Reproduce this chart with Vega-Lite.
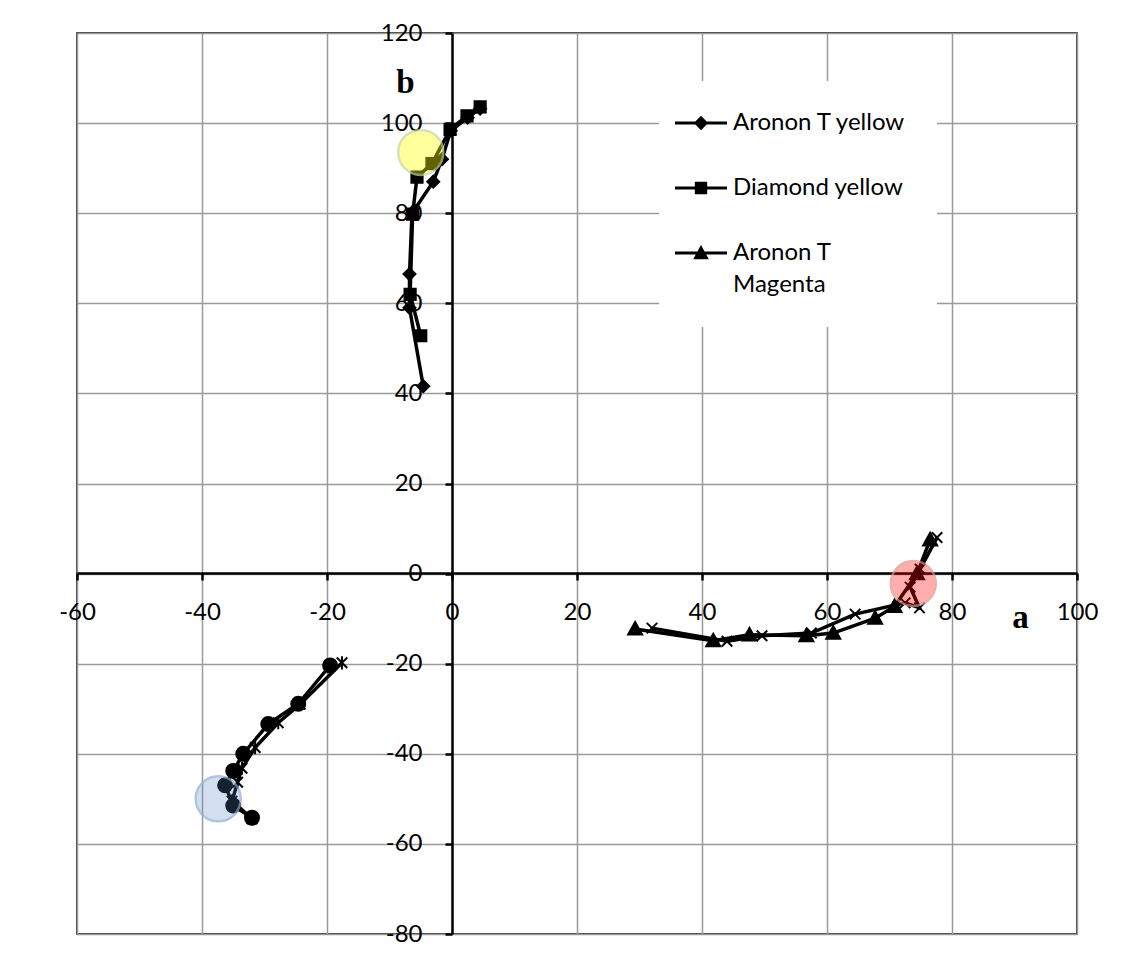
{
  "$schema": "https://vega.github.io/schema/vega-lite/v6.json",
  "width": 1000,
  "height": 901,
  "autosize": "none",
  "padding": {"left": 77, "top": 33, "right": 50, "bottom": 22},
  "background": "white",
  "config": {
    "view": {"stroke": "black", "strokeWidth": 1.5},
    "font": "Lato",
    "style": {"guide-label": {"lineHeight": 32}}
  },
  "datasets": {
    "series": [
      {"series": "Aronon T yellow", "ord": 1, "a": -4.6, "b": 41.6},
      {"series": "Aronon T yellow", "ord": 2, "a": -6.8, "b": 59.0},
      {"series": "Aronon T yellow", "ord": 3, "a": -6.8, "b": 66.5},
      {"series": "Aronon T yellow", "ord": 4, "a": -6.4, "b": 80.0},
      {"series": "Aronon T yellow", "ord": 5, "a": -3.0, "b": 87.0},
      {"series": "Aronon T yellow", "ord": 6, "a": -1.6, "b": 92.0},
      {"series": "Aronon T yellow", "ord": 7, "a": -0.2, "b": 98.3},
      {"series": "Aronon T yellow", "ord": 8, "a": 2.5, "b": 101.2},
      {"series": "Aronon T yellow", "ord": 9, "a": 4.5, "b": 103.2},
      {"series": "Diamond yellow", "ord": 1, "a": -5.0, "b": 52.8},
      {"series": "Diamond yellow", "ord": 2, "a": -6.7, "b": 62.0},
      {"series": "Diamond yellow", "ord": 3, "a": -6.3, "b": 79.8},
      {"series": "Diamond yellow", "ord": 4, "a": -5.6, "b": 88.0},
      {"series": "Diamond yellow", "ord": 5, "a": -3.2, "b": 91.0},
      {"series": "Diamond yellow", "ord": 6, "a": -0.3, "b": 98.6},
      {"series": "Diamond yellow", "ord": 7, "a": 2.4, "b": 101.6},
      {"series": "Diamond yellow", "ord": 8, "a": 4.5, "b": 103.6},
      {"series": "Aronon T Magenta", "ord": 1, "a": 29.3, "b": -12.3},
      {"series": "Aronon T Magenta", "ord": 2, "a": 41.8, "b": -14.9},
      {"series": "Aronon T Magenta", "ord": 3, "a": 47.6, "b": -13.6},
      {"series": "Aronon T Magenta", "ord": 4, "a": 56.7, "b": -13.8},
      {"series": "Aronon T Magenta", "ord": 5, "a": 61.0, "b": -13.2},
      {"series": "Aronon T Magenta", "ord": 6, "a": 67.7, "b": -9.9},
      {"series": "Aronon T Magenta", "ord": 7, "a": 70.8, "b": -7.3},
      {"series": "Aronon T Magenta", "ord": 8, "a": 74.4, "b": 0.0},
      {"series": "Aronon T Magenta", "ord": 9, "a": 76.5, "b": 7.5},
      {"series": "Diamond Magenta", "ord": 1, "a": 32.0, "b": -12.1},
      {"series": "Diamond Magenta", "ord": 2, "a": 44.0, "b": -15.0},
      {"series": "Diamond Magenta", "ord": 3, "a": 49.6, "b": -13.8},
      {"series": "Diamond Magenta", "ord": 4, "a": 57.5, "b": -13.2},
      {"series": "Diamond Magenta", "ord": 5, "a": 64.5, "b": -9.0},
      {"series": "Diamond Magenta", "ord": 6, "a": 72.5, "b": -6.5},
      {"series": "Diamond Magenta", "ord": 7, "a": 74.8, "b": -7.6},
      {"series": "Diamond Magenta", "ord": 8, "a": 73.3, "b": -3.0},
      {"series": "Diamond Magenta", "ord": 9, "a": 74.9, "b": 1.0},
      {"series": "Diamond Magenta", "ord": 10, "a": 77.6, "b": 8.0},
      {"series": "Aronon T Cyan", "ord": 1, "a": -19.5, "b": -20.4},
      {"series": "Aronon T Cyan", "ord": 2, "a": -24.6, "b": -28.9},
      {"series": "Aronon T Cyan", "ord": 3, "a": -29.4, "b": -33.4},
      {"series": "Aronon T Cyan", "ord": 4, "a": -33.4, "b": -40.0},
      {"series": "Aronon T Cyan", "ord": 5, "a": -35.0, "b": -43.8},
      {"series": "Aronon T Cyan", "ord": 6, "a": -36.3, "b": -47.0},
      {"series": "Aronon T Cyan", "ord": 7, "a": -35.0, "b": -51.5},
      {"series": "Aronon T Cyan", "ord": 8, "a": -32.0, "b": -54.2},
      {"series": "Diamond Cyan", "ord": 1, "a": -17.6, "b": -19.8},
      {"series": "Diamond Cyan", "ord": 2, "a": -24.3, "b": -29.0},
      {"series": "Diamond Cyan", "ord": 3, "a": -27.8, "b": -33.1},
      {"series": "Diamond Cyan", "ord": 4, "a": -31.5, "b": -38.6},
      {"series": "Diamond Cyan", "ord": 5, "a": -33.6, "b": -43.2},
      {"series": "Diamond Cyan", "ord": 6, "a": -34.3, "b": -46.3},
      {"series": "Diamond Cyan", "ord": 7, "a": -35.2, "b": -50.5},
      {"series": "Diamond Cyan", "ord": 8, "a": -32.0, "b": -54.4}
    ],
    "highlights": [
      {"kind": "yellow", "a": -5.0, "b": 93.5},
      {"kind": "red", "a": 73.8, "b": -2.2},
      {"kind": "blue", "a": -37.4, "b": -50.0}
    ],
    "legendEntries": [
      {"entry": "Aronon T yellow"},
      {"entry": "Diamond yellow"},
      {"entry": "Aronon T Magenta"}
    ]
  },
  "resolve": {"scale": {"shape": "independent"}, "legend": {"shape": "independent"}},
  "layer": [
    {
      "data": {"name": "series"},
      "mark": {"type": "line", "color": "black", "strokeWidth": 3.5},
      "encoding": {
        "x": {
          "field": "a", "type": "quantitative",
          "scale": {"domain": [-60, 100], "nice": false, "zero": false},
          "axis": {
            "orient": "bottom", "offset": -361,
            "values": [-60, -40, -20, 0, 20, 40, 60, 80, 100],
            "labelExpr": "toString(datum.value)",
            "grid": true, "gridColor": "#9a9a9a", "gridWidth": 1.5,
            "domain": true, "domainColor": "black", "domainWidth": 2.5,
            "ticks": true, "tickColor": "black", "tickWidth": 2.5, "tickSize": 7,
            "labelFont": "Lato", "labelFontSize": 24, "labelColor": "black",
            "labelPadding": 20, "labelFlush": false, "labelOverlap": false,
            "title": "a", "titleAngle": 0, "titleFont": "Liberation Serif",
            "titleFontWeight": "bold", "titleFontSize": 33, "titleColor": "black",
            "titleX": 943, "titleY": 44, "titleAlign": "center", "titleBaseline": "middle"
          }
        },
        "y": {
          "field": "b", "type": "quantitative",
          "scale": {"domain": [-80, 120], "nice": false, "zero": false},
          "axis": {
            "orient": "left", "offset": -375,
            "values": [-80, -60, -40, -20, 0, 20, 40, 60, 80, 100, 120],
            "labelExpr": "toString(datum.value)",
            "grid": true, "gridColor": "#9a9a9a", "gridWidth": 1.5,
            "domain": true, "domainColor": "black", "domainWidth": 2.5,
            "ticks": true, "tickColor": "black", "tickWidth": 2.5, "tickSize": 7,
            "labelFont": "Lato", "labelFontSize": 24, "labelColor": "black",
            "labelPadding": 23, "labelFlush": false, "labelOverlap": false,
            "title": "b", "titleAngle": 0, "titleFont": "Liberation Serif",
            "titleFontWeight": "bold", "titleFontSize": 33, "titleColor": "black",
            "titleX": -47, "titleY": 49, "titleAlign": "center", "titleBaseline": "middle"
          }
        },
        "detail": {"field": "series"},
        "order": {"field": "ord", "type": "quantitative"}
      }
    },
    {
      "data": {"name": "series"},
      "mark": {"type": "point", "filled": true, "fill": "black", "stroke": "black", "strokeWidth": 2, "opacity": 1, "size": 196},
      "encoding": {
        "x": {"field": "a", "type": "quantitative"},
        "y": {"field": "b", "type": "quantitative"},
        "shape": {
          "field": "series", "type": "nominal",
          "scale": {
            "domain": ["Aronon T yellow", "Diamond yellow", "Aronon T Magenta", "Diamond Magenta", "Aronon T Cyan", "Diamond Cyan"],
            "range": [
              "M0,-0.85L0.85,0L0,0.85L-0.85,0Z",
              "M-0.8,-0.8H0.8V0.8H-0.8Z",
              "M0,-1L1,0.8H-1Z",
              "M-0.75,-0.75L0.75,0.75M-0.75,0.75L0.75,-0.75",
              "circle",
              "M-0.75,-0.75L0.75,0.75M-0.75,0.75L0.75,-0.75M0,-0.95L0,0.95"
            ]
          },
          "legend": null
        }
      }
    },
    {
      "data": {"name": "highlights"},
      "mark": {"type": "point", "filled": true, "size": 2025, "strokeWidth": 2.5, "strokeOpacity": 1, "shape": "circle"},
      "encoding": {
        "x": {"field": "a", "type": "quantitative"},
        "y": {"field": "b", "type": "quantitative"},
        "fill": {
          "field": "kind", "type": "nominal",
          "scale": {"domain": ["yellow", "red", "blue"], "range": ["#ffff00", "#ff0000", "#4f81bd"]},
          "legend": null
        },
        "fillOpacity": {
          "field": "kind", "type": "nominal",
          "scale": {"domain": ["yellow", "red", "blue"], "range": [0.55, 0.36, 0.32]},
          "legend": null
        },
        "stroke": {
          "field": "kind", "type": "nominal",
          "scale": {"domain": ["yellow", "red", "blue"], "range": ["#c4d79b", "#e09090", "#8eaad8"]},
          "legend": null
        }
      }
    },
    {
      "data": {"name": "legendEntries"},
      "mark": {"type": "point", "filled": true, "opacity": 0, "color": "black", "fill": "black"},
      "encoding": {
        "shape": {
          "field": "entry", "type": "nominal",
          "scale": {
            "domain": ["Aronon T yellow", "Diamond yellow", "Aronon T Magenta"],
            "range": [
              "M-4.0,-0.24H4.0V0.24H-4.0ZM0,-1.1L1.1,0L0,1.1L-1.1,0Z",
              "M-4.0,-0.24H4.0V0.24H-4.0ZM-0.95,-0.95H0.95V0.95H-0.95Z",
              "M-4.0,-0.24H4.0V0.24H-4.0ZM0,-1.25L1.2,0.95H-1.2Z"
            ]
          },
          "legend": {
            "title": null,
            "orient": "none", "legendX": 582, "legendY": 48,
            "fillColor": "white", "padding": 30,
            "symbolSize": 169, "symbolFillColor": "black",
            "symbolStrokeWidth": 0, "symbolOpacity": 1,
            "labelFont": "Lato", "labelFontSize": 24, "labelColor": "black",
            "labelOffset": 20, "labelLimit": 300, "rowPadding": 41,
            "labelExpr": "datum.label == 'Aronon T Magenta' ? ['Aronon T', 'Magenta'] : datum.label"
          }
        }
      }
    }
  ]
}
